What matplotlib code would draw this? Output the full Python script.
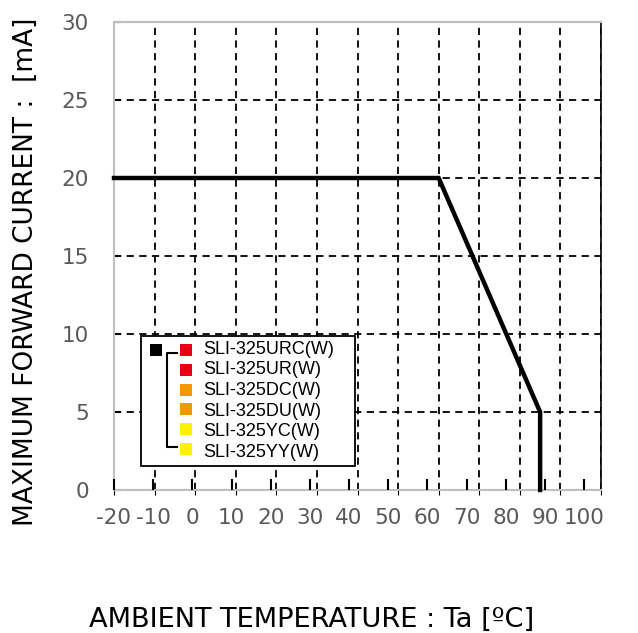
import matplotlib.pyplot as plt
from matplotlib.patches import Rectangle
from matplotlib.lines import Line2D

plt.rcParams['axes.unicode_minus'] = False

# derating curve
temp = [-20, 60, 85, 85]
current = [20, 20, 5, 0]

x_ticks = [-20, -10, 0, 10, 20, 30, 40, 50, 60, 70, 80, 90, 100]
y_ticks = [0, 5, 10, 15, 20, 25, 30]

models = ['SLI-325URC(W)', 'SLI-325UR(W)', 'SLI-325DC(W)',
          'SLI-325DU(W)', 'SLI-325YC(W)', 'SLI-325YY(W)']
model_colors = ['#E60012', '#E60012', '#F39800', '#F39800', '#FFF100', '#FFF100']

W, H = 638, 633
fig = plt.figure(figsize=(W / 100, H / 100), dpi=100)
ax = fig.add_axes([114 / W, 1 - 490 / H, 487 / W, 468 / H])

ax.plot(temp, current, color='black', lw=3.2, solid_joinstyle='miter', zorder=5, clip_on=False)

ax.set_xlim(-20, 100)
ax.set_ylim(0, 30)
ax.set_xticks(x_ticks)
ax.set_yticks(y_ticks)
ax.grid(True, color='black', ls=(0, (4, 3)), lw=1.3)
ax.tick_params(axis='x', bottom=False, labelbottom=False)
ax.tick_params(axis='y', direction='in', length=5, width=1.5, color='black', labelsize=15.5,
               labelcolor='#595959', pad=18)
for s in ['left', 'bottom', 'top']:
    ax.spines[s].set_color('#BFBFBF')
    ax.spines[s].set_linewidth(1.5)
ax.spines['right'].set_color('black')
ax.spines['right'].set_linewidth(1.2)

# bottom tick labels sit on a slightly shorter scale than the grid
ax2 = ax.twiny()
ax2.set_xlim(-20, 104.3)
ax2.set_xticks(x_ticks)
ax2.xaxis.set_ticks_position('bottom')
ax2.tick_params(axis='x', direction='in', length=8, width=1.5, color='black', labelsize=15.5,
                labelcolor='#595959', pad=13)
for s in ax2.spines.values():
    s.set_visible(False)

fig.text(26 / W, 1 - 272 / H, 'MAXIMUM FORWARD CURRENT :  [mA]', fontsize=19,
         rotation=90, ha='center', va='center')
fig.text(312 / W, 1 - 620 / H, 'AMBIENT TEMPERATURE : Ta [ºC]', fontsize=19.6,
         ha='center', va='center')


# legend drawn by hand, in pixel coords of the figure
def fx(x):
    return x / W


def fy(y):
    return 1 - y / H


ft = fig.transFigure
fig.patches.append(Rectangle((fx(141), fy(466)), fx(355) - fx(141), fy(336) - fy(466),
                             transform=ft, fill=True, fc='white', ec='black', lw=1.3, zorder=10))
fig.patches.append(Rectangle((fx(150), fy(356)), fx(12), 12 / H, transform=ft,
                             fc='black', ec='none', zorder=11))
fig.lines.append(Line2D([fx(177), fx(167), fx(167), fx(177)],
                        [fy(353), fy(353), fy(447), fy(447)], transform=ft,
                        color='black', lw=1.5, zorder=11))
for i, (name, c) in enumerate(zip(models, model_colors)):
    yc = 350 + i * 19.8
    fig.patches.append(Rectangle((fx(180), fy(yc + 6)), fx(12), 12 / H, transform=ft,
                                 fc=c, ec='none', zorder=11))
    fig.text(fx(203), fy(349 + i * 20.7), name, fontsize=13, family='Liberation Sans',
             ha='left', va='center', zorder=12)

fig.savefig('out.png', dpi=100)
